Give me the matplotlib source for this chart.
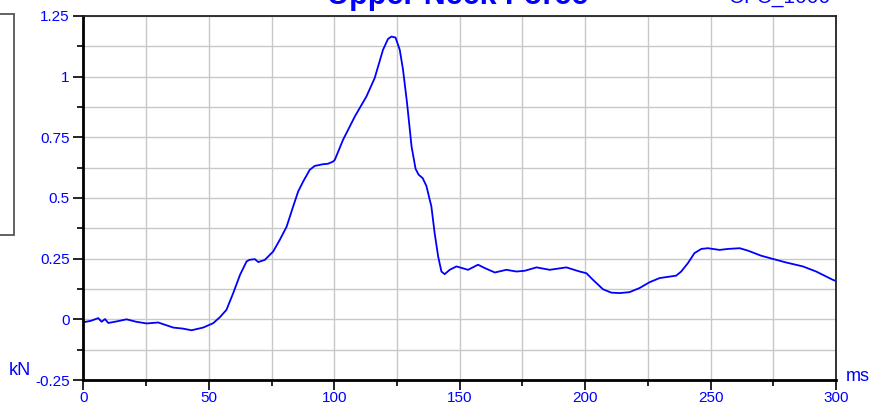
import matplotlib
matplotlib.use("Agg")
import matplotlib.pyplot as plt
from matplotlib.ticker import MultipleLocator, FuncFormatter
from matplotlib.patches import Rectangle

plt.rcParams['font.family'] = ['Liberation Sans', 'DejaVu Sans']
plt.rcParams['axes.unicode_minus'] = False

# upper neck force trace (ms, kN)
time_ms = [0, 3.0, 5.9, 7.2, 8.6, 9.9, 13.5, 17.2, 21.0, 25.2, 29.8, 35.8, 39.5, 43.1,
           47.7, 51.7, 54.4, 57.0, 59.7, 62.4, 65.0, 66.1, 68.3, 69.7, 72.3,
           75.6, 78.3, 81.0, 83.6, 85.6, 87.6, 90.2, 92.2, 95.5, 97.5, 99.5,
           100.2, 103.5, 108.2, 112.8, 116.1, 119.4, 121.4, 122.8, 124.4,
           126.1, 127.4, 129.0, 130.8, 132.4, 133.6, 135.2, 136.7, 138.7,
           140.0, 141.4, 142.7, 144.0, 146.0, 148.7, 153.3, 157.3, 160.0,
           164.0, 168.6, 172.6, 175.9, 180.6, 185.9, 192.5, 197.8, 200.5,
           203.1, 207.1, 210.4, 213.7, 217.7, 221.7, 225.7, 229.7, 233.7,
           236.3, 238.3, 241.0, 243.6, 246.3, 248.9, 253.6, 256.9, 261.6,
           264.9, 270.2, 274.8, 280.2, 286.8, 292.1, 298.7, 300.0]
force_kn = [-0.012, -0.006, 0.005, -0.010, 0.001, -0.015, -0.008, 0.000, -0.010, -0.017,
            -0.013, -0.034, -0.038, -0.045, -0.034, -0.016, 0.009, 0.039, 0.108,
            0.183, 0.238, 0.245, 0.248, 0.236, 0.245, 0.279, 0.328, 0.382,
            0.465, 0.527, 0.568, 0.616, 0.632, 0.639, 0.641, 0.650, 0.657,
            0.740, 0.836, 0.918, 0.994, 1.110, 1.155, 1.165, 1.161, 1.110,
            1.028, 0.891, 0.712, 0.620, 0.596, 0.582, 0.550, 0.465, 0.355,
            0.259, 0.197, 0.186, 0.204, 0.218, 0.204, 0.225, 0.211, 0.193,
            0.204, 0.197, 0.200, 0.214, 0.204, 0.214, 0.197, 0.190, 0.163,
            0.124, 0.110, 0.108, 0.112, 0.129, 0.153, 0.170, 0.176, 0.180,
            0.197, 0.232, 0.273, 0.290, 0.293, 0.286, 0.290, 0.293, 0.283,
            0.262, 0.249, 0.234, 0.218, 0.197, 0.163, 0.158]

blue = '#0000ff'

fig = plt.figure(figsize=(8.74, 4.05), dpi=100)
ax = fig.add_axes([0.0955, 0.0617, 0.861, 0.899])

ax.plot(time_ms, force_kn, color=blue, lw=1.3)

ax.set_xlim(0, 300)
ax.set_ylim(-0.25, 1.25)
ax.xaxis.set_major_locator(MultipleLocator(50))
ax.xaxis.set_minor_locator(MultipleLocator(25))
ax.yaxis.set_major_locator(MultipleLocator(0.25))
ax.yaxis.set_minor_locator(MultipleLocator(0.125))
ax.yaxis.set_major_formatter(FuncFormatter(lambda v, p: '%g' % v))
ax.xaxis.set_major_formatter(FuncFormatter(lambda v, p: '%g' % v))

ax.grid(True, which='both', color='#c8c8c8', lw=1.0)
ax.set_axisbelow(True)

ax.tick_params(which='major', direction='out', length=7, width=1.2,
               labelsize=11, labelcolor=blue, color='black', pad=3)
ax.tick_params(axis='x', which='major', pad=1)
ax.tick_params(which='minor', direction='out', length=4, width=1.2, color='black')

for side in ['left', 'bottom']:
    ax.spines[side].set_linewidth(2.0)
    ax.spines[side].set_color('black')
for side in ['top', 'right']:
    ax.spines[side].set_linewidth(1.3)
    ax.spines[side].set_color('#222222')

fig.text(0.524, 0.989, 'Upper Neck Force', color=blue, fontsize=22,
         fontweight='bold', ha='center', va='baseline')
fig.text(0.950, 0.993, 'CFC_1000', color=blue, fontsize=15,
         ha='right', va='baseline')
fig.text(0.023, 0.086, 'kN', color=blue, fontsize=13, ha='center', va='center')
fig.text(0.982, 0.071, 'ms', color=blue, fontsize=13, ha='center', va='center')

# cropped legend frame at the far left
fig.patches.append(Rectangle((-0.05, 1 - 235 / 405), 0.066, (235 - 14) / 405,
                             transform=fig.transFigure, fill=False,
                             edgecolor='#555555', lw=1.3))

fig.savefig('out.png', dpi=100)
